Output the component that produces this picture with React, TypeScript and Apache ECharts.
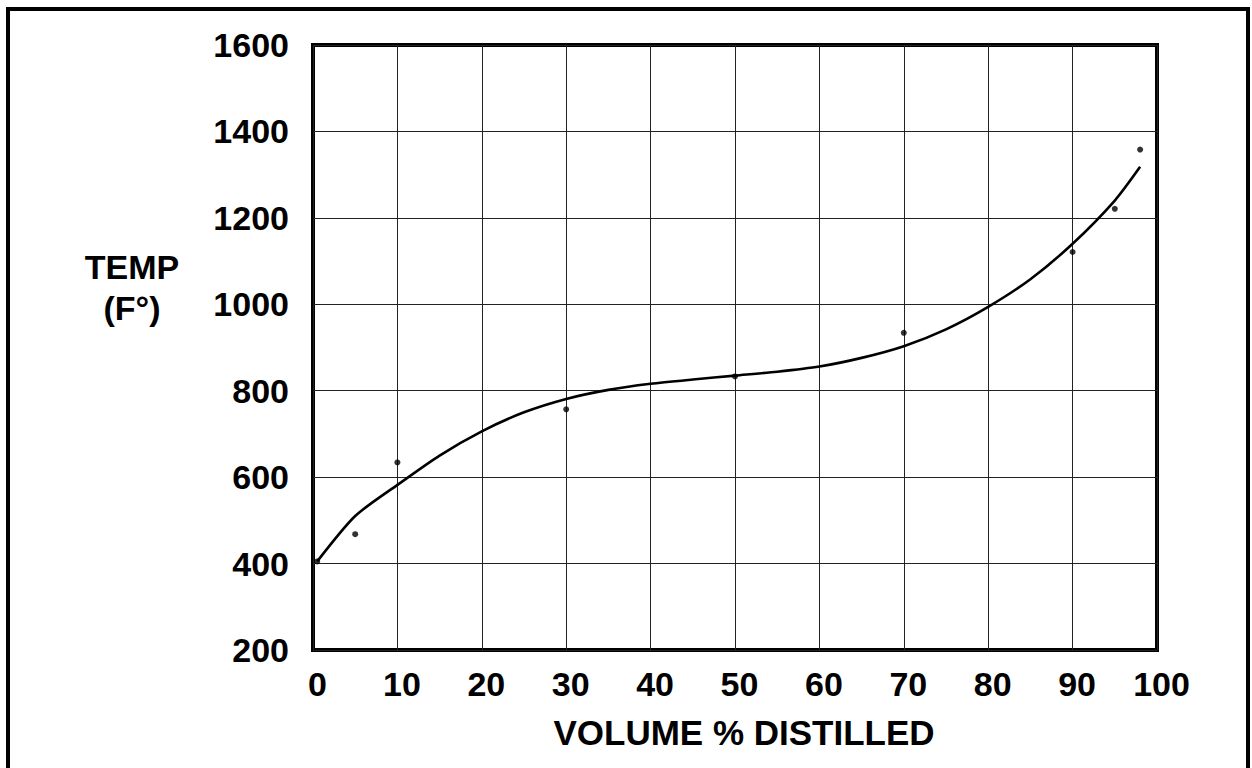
import React, { useEffect, useRef } from "react";
import * as echarts from "echarts";

// Measured data points (volume % distilled, temperature °F)
const pointVolume = [0.5, 5, 10, 30, 50, 70, 90, 95, 98];
const pointTemp = [405, 468, 634, 757, 833, 934, 1121, 1221, 1358];

// Trend curve
const curveVolume = [0.5, 5, 10, 15, 20, 25, 30, 35, 40, 45, 50, 55, 60, 65, 70, 75, 80, 85, 90, 95, 98];
const curveTemp = [405, 510, 582, 650, 706, 750, 781, 802, 816, 826, 835, 844, 856, 876, 903, 942, 994, 1058, 1140, 1240, 1318];

const xTicks = [0, 10, 20, 30, 40, 50, 60, 70, 80, 90, 100];
const yTicks = [200, 400, 600, 800, 1000, 1200, 1400, 1600];

const FONT = "'Liberation Sans', Arial, sans-serif";

export default function App() {
  const ref = useRef<HTMLDivElement>(null);
  useEffect(() => {
    if (!ref.current) return;
    const chart = echarts.init(ref.current, null, { renderer: "svg" });
    const grid = { left: 313, right: 95, top: 45, bottom: 118 };
    chart.setOption({
      animation: false,
      backgroundColor: "#ffffff",
      grid: { ...grid, show: true, borderColor: "#000", borderWidth: 4, backgroundColor: "transparent" },
      xAxis: {
        type: "value",
        min: xTicks[0],
        max: xTicks[xTicks.length - 1],
        interval: 10,
        axisLine: { show: false },
        axisTick: { show: false },
        splitLine: { show: true, lineStyle: { color: "#222", width: 1 } },
        axisLabel: {
          margin: 17,
          fontSize: 34,
          fontWeight: "bold",
          fontFamily: FONT,
          color: "#000",
          padding: [0, 0, 0, 9],
          formatter: (v: number) => String(v),
        },
      },
      yAxis: {
        type: "value",
        min: yTicks[0],
        max: yTicks[yTicks.length - 1],
        interval: 200,
        axisLine: { show: false },
        axisTick: { show: false },
        splitLine: { show: true, lineStyle: { color: "#222", width: 1 } },
        axisLabel: {
          margin: 24,
          fontSize: 34,
          fontWeight: "bold",
          fontFamily: FONT,
          color: "#000",
          formatter: (v: number) => String(v),
        },
      },
      series: [
        {
          type: "line",
          data: curveVolume.map((v, i) => [v, curveTemp[i]]),
          symbol: "none",
          smooth: 0.25,
          lineStyle: { color: "#000", width: 2.6 },
          z: 3,
        },
        {
          type: "scatter",
          data: pointVolume.map((v, i) => [v, pointTemp[i]]),
          symbol: "circle",
          symbolSize: 6,
          itemStyle: { color: "#000" },
          z: 4,
        },
      ],
      graphic: [
        {
          type: "rect",
          shape: { x: 8, y: 9, width: 1240, height: 800 },
          style: { fill: "none", stroke: "#000", lineWidth: 4 },
          silent: true,
        },
        {
          type: "text",
          x: 132,
          y: 267,
          style: {
            text: "TEMP",
            fontSize: 34,
            fontWeight: "bold",
            fontFamily: FONT,
            fill: "#000",
            align: "center",
            verticalAlign: "middle",
          },
        },
        {
          type: "text",
          x: 132,
          y: 308,
          style: {
            text: "(F°)",
            fontSize: 34,
            fontWeight: "bold",
            fontFamily: FONT,
            fill: "#000",
            align: "center",
            verticalAlign: "middle",
          },
        },
        {
          type: "text",
          x: 744,
          y: 732,
          style: {
            text: "VOLUME % DISTILLED",
            fontSize: 35,
            fontWeight: "bold",
            fontFamily: FONT,
            fill: "#000",
            align: "center",
            verticalAlign: "middle",
          },
        },
      ],
    });
    return () => chart.dispose();
  }, []);
  return (
    <div
      ref={ref}
      style={{ position: "fixed", left: 0, top: 0, width: 1252, height: 768 }}
    />
  );
}
